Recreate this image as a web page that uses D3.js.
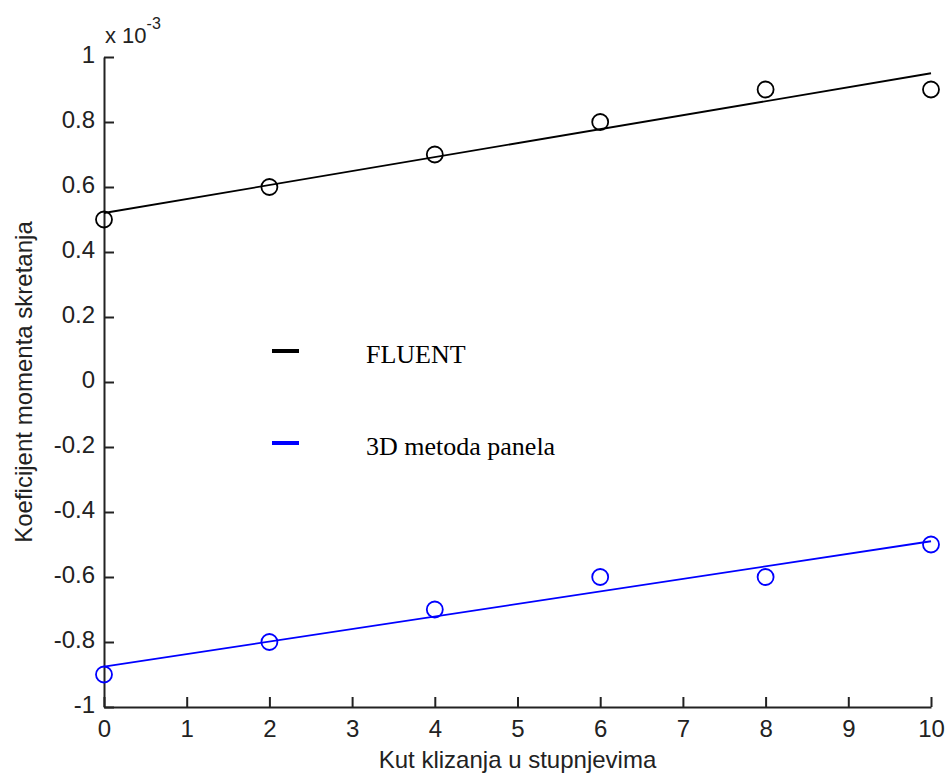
<!DOCTYPE html>
<html>
<head>
<meta charset="utf-8">
<script src="https://cdn.jsdelivr.net/npm/d3@7"></script>
<style>
  body { margin: 0; background: #fff; }
</style>
</head>
<body>
<div id="chart"></div>
<script>
// podaci (x 10^-3)
const kut = [0, 2, 4, 6, 8, 10];
const fluent = [0.5, 0.6, 0.7, 0.8, 0.9, 0.9];
const panel = [-0.9, -0.8, -0.7, -0.6, -0.6, -0.5];
// pravci prilagodbe (krajnje tocke)
const fitX = [0, 10];
const fitFluent = [0.52, 0.95];
const fitPanel = [-0.876, -0.49];
const xTicks = [0, 1, 2, 3, 4, 5, 6, 7, 8, 9, 10];
const yTicks = [-1, -0.8, -0.6, -0.4, -0.2, 0, 0.2, 0.4, 0.6, 0.8, 1];
const legendNames = ["FLUENT", "3D metoda panela"];
const legendColors = ["#000", "#0000ff"];

const width = 945, height = 776;
const margin = { left: 104, right: 14, top: 57, bottom: 69 };
const sans = "'Liberation Sans', Arial, sans-serif";
const serif = "'Liberation Serif', 'Times New Roman', serif";

const svg = d3.select("#chart").append("svg")
    .attr("width", width)
    .attr("height", height);

const x = d3.scaleLinear().domain([0, 10]).range([margin.left, width - margin.right]);
const y = d3.scaleLinear().domain([-1, 1]).range([height - margin.bottom, margin.top]);

// oznake s obicnim minusom kao u MATLAB-u
const fmt = d => String(+d.toFixed(1));

// osi - crtice prema unutra
const xAxis = d3.axisBottom(x).tickValues(xTicks).tickSizeInner(-10).tickSizeOuter(0).tickPadding(13)
    .tickFormat(fmt);
const yAxis = d3.axisLeft(y).tickValues(yTicks).tickSizeInner(-10).tickSizeOuter(0).tickPadding(9)
    .tickFormat(fmt);

const gx = svg.append("g")
    .attr("transform", `translate(0,${y(-1)})`)
    .call(xAxis);
const gy = svg.append("g")
    .attr("transform", `translate(${x(0)},0)`)
    .call(yAxis);

[gx, gy].forEach(g => {
    g.select(".domain").attr("stroke", "#222").attr("stroke-width", 2);
    g.selectAll(".tick line").attr("stroke", "#222").attr("stroke-width", 2);
    g.selectAll(".tick text")
        .style("font-size", "24px")
        .style("font-family", sans)
        .attr("fill", "#222");
});
gy.selectAll(".tick text").attr("dy", "0.22em");

// x 10^-3
const exp = svg.append("text").attr("x", 105).attr("y", 43)
    .style("font-family", sans).style("font-size", "22px").attr("fill", "#222");
exp.append("tspan").text("x 10");
exp.append("tspan").attr("dy", -14).style("font-size", "16px").text("-3");

// naslovi osi
svg.append("text")
    .attr("x", x(5)).attr("y", 768)
    .attr("text-anchor", "middle")
    .style("font-family", sans).style("font-size", "24px")
    .attr("fill", "#222")
    .text("Kut klizanja u stupnjevima");

svg.append("text")
    .attr("transform", `translate(32,${y(0)}) rotate(-90)`)
    .attr("text-anchor", "middle")
    .style("font-family", sans).style("font-size", "24px")
    .attr("fill", "#222")
    .text("Koeficijent momenta skretanja");

const line = d3.line().x(d => x(d[0])).y(d => y(d[1]));

const series = [
    { pts: kut.map((k, i) => [k, fluent[i]]), fit: fitX.map((k, i) => [k, fitFluent[i]]), color: legendColors[0] },
    { pts: kut.map((k, i) => [k, panel[i]]), fit: fitX.map((k, i) => [k, fitPanel[i]]), color: legendColors[1] }
];

series.forEach(s => {
    svg.append("path")
        .datum(s.fit)
        .attr("d", line)
        .attr("fill", "none")
        .attr("stroke", s.color)
        .attr("stroke-width", 1.8);

    svg.selectAll(null)
        .data(s.pts)
        .join("circle")
        .attr("cx", d => x(d[0]))
        .attr("cy", d => y(d[1]))
        .attr("r", 8)
        .attr("fill", "none")
        .attr("stroke", s.color)
        .attr("stroke-width", 1.8);
});

// legenda
const legend = svg.append("g");
legendNames.forEach((name, i) => {
    const ly = 351 + i * 92;
    legend.append("line")
        .attr("x1", 272).attr("x2", 299)
        .attr("y1", ly).attr("y2", ly)
        .attr("stroke", legendColors[i])
        .attr("stroke-width", 4);
    legend.append("text")
        .attr("x", 366).attr("y", ly + 12)
        .style("font-family", serif)
        .style("font-size", "26px")
        .attr("fill", "#000")
        .text(name);
});
</script>
</body>
</html>
